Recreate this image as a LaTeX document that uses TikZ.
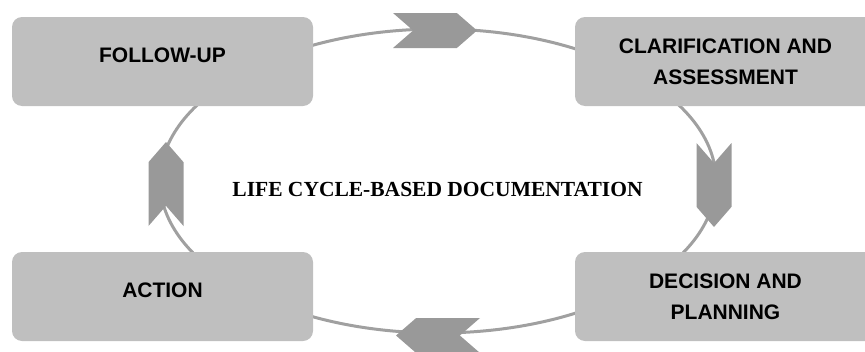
\documentclass[tikz,border=0pt]{standalone}
\usepackage{fontspec}
\setmainfont{Liberation Serif}
\setsansfont{Liberation Sans}
\usetikzlibrary{shapes.symbols}
\definecolor{boxgray}{HTML}{BFBFBF}
\definecolor{chevgray}{HTML}{999999}
\definecolor{ringgray}{HTML}{A0A0A0}
\begin{document}
\begin{tikzpicture}[x=1pt,y=-1pt,
  stage/.style={fill=boxgray, rounded corners=10pt, minimum width=301pt,
    minimum height=89pt, inner sep=0pt, align=center, text=black,
    font=\sffamily\bfseries\fontsize{21}{31}\selectfont},
  oneline/.style={text height=15pt, text depth=14pt},
  chev/.style={signal, signal from=west, signal to=east,
    signal pointer angle=82, fill=chevgray, draw=none,
    minimum width=84pt, minimum height=35pt, inner sep=0pt},
  ring/.style={draw=ringgray, line width=3pt},
  title/.style={font=\rmfamily\bfseries\fontsize{21.5}{25}\selectfont,
    inner sep=0pt, text=black}]
\useasboundingbox (0,0) rectangle (865,351);

% the cycle ring behind the stages
\coordinate (hub) at (438,181);
\draw[ring] (hub) ellipse [x radius=278pt, y radius=152pt];

% direction markers on the ring
\node[chev] (toright) at (435,30.5) {};
\node[chev, rotate=-90] (todown) at (714,185) {};
\node[chev, rotate=180] (toleft) at (438,335.5) {};
\node[chev, rotate=90] (toup) at (166,184) {};

% the four stages
\node[stage, oneline] (follow) at (162.5,61.5) {FOLLOW-UP};
\node[stage] (clarify) at (725.5,61.5) {CLARIFICATION AND\\ASSESSMENT};
\node[stage] (decide) at (725.5,296.5) {DECISION AND\\PLANNING};
\node[stage, oneline] (act) at (162.5,296.5) {ACTION};

% centre caption
\node[title] (caption) at (437.5,189.5) {LIFE CYCLE-BASED DOCUMENTATION};
\end{tikzpicture}
\end{document}
